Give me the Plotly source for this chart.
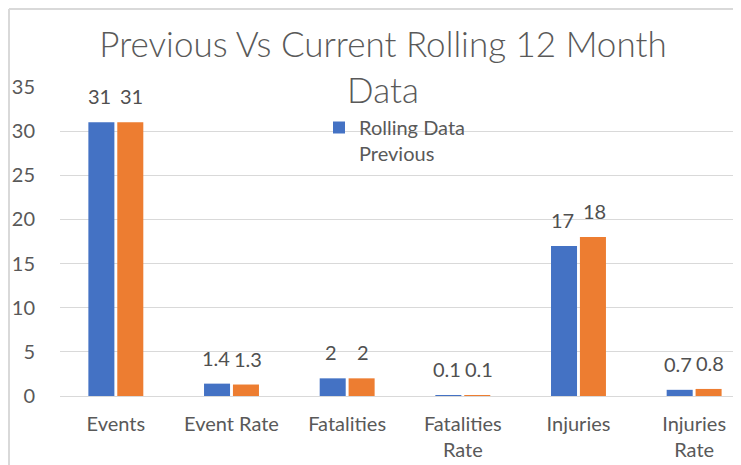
import plotly.graph_objects as go

categories = ["Events", "Event Rate", "Fatalities", "Fatalities<br>Rate", "Injuries", "Injuries<br>Rate"]
previous = [31, 1.4, 2, 0.1, 17, 0.7]
current = [31, 1.3, 2, 0.1, 18, 0.8]
y_ticks = [0, 5, 10, 15, 20, 25, 30, 35]

# the page body adds an 8px margin; lay out in page pixels and convert
OFF = 8
W, H = 741 - OFF, 465 - OFF
ML, MR, MT, MB = 60 - OFF, 0, 87 - OFF, 465 - 396
PW = W - ML - MR
PH = H - MT - MB

def px(x):
    return (x - OFF - ML) / PW

def py(y):
    return (H - MB - (y - OFF)) / PH

font_fam = "Lato, 'Open Sans', sans-serif"
label_col = "#595959"
value_col = "#505050"

fig = go.Figure()
fig.add_trace(go.Bar(
    x=categories, y=previous, name="Rolling Data<br>Previous",
    marker=dict(color="#4472C4", line=dict(width=0)),
))
fig.add_trace(go.Bar(
    x=categories, y=current, name="Current", showlegend=False,
    marker=dict(color="#ED7D31", line=dict(width=0)),
))

# data labels above the bars
for cat, v in zip(categories, previous):
    fig.add_annotation(x=cat, y=v, text=str(v), showarrow=False,
                       xshift=-16, yshift=12, yanchor="bottom",
                       font=dict(size=20, color=value_col, family=font_fam))
for cat, v in zip(categories, current):
    fig.add_annotation(x=cat, y=v, text=str(v), showarrow=False,
                       xshift=16, yshift=12, yanchor="bottom",
                       font=dict(size=20, color=value_col, family=font_fam))

fig.update_layout(
    width=W, height=H,
    margin=dict(l=ML, r=MR, t=MT, b=MB, autoexpand=False),
    paper_bgcolor="white", plot_bgcolor="white",
    barmode="group", bargap=0.5, bargroupgap=0.1,
    font=dict(family=font_fam, color=label_col, size=20),
    title=dict(
        text="Previous Vs Current Rolling 12 Month<br>Data",
        x=(383 - OFF) / W, xanchor="center", xref="container",
        y=1 - 49 / H, yanchor="top", yref="container",
        font=dict(size=35, color=label_col, family=font_fam, weight=300),
        automargin=False,
    ),
    legend=dict(
        x=px(319), y=py(108), xanchor="left", yanchor="top",
        bgcolor="rgba(0,0,0,0)", font=dict(size=20, color=label_col),
        itemwidth=30, valign="top",
    ),
    xaxis=dict(
        type="category", range=[-0.5 + 2 / 116, 5.5 - 11 / 116],
        showgrid=False, showline=False, ticks="",
        tickfont=dict(size=20, color=label_col),
        ticklabelstandoff=14, automargin=False,
    ),
    yaxis=dict(
        range=[0, 35], tickvals=y_ticks, showgrid=True,
        gridcolor="#d9d9d9", gridwidth=1, zeroline=True,
        zerolinecolor="#d9d9d9", zerolinewidth=1, showline=False,
        tickfont=dict(size=20, color=label_col), ticks="",
        ticklabelstandoff=24, automargin=False,
    ),
)

# chart-area border (left and top edges visible in the reference)
fig.add_shape(type="line", xref="paper", yref="paper",
              x0=px(9), x1=px(9), y0=py(470), y1=py(9),
              line=dict(color="#d9d9d9", width=2))
fig.add_shape(type="line", xref="paper", yref="paper",
              x0=px(9), x1=px(750), y0=py(9), y1=py(9),
              line=dict(color="#d9d9d9", width=2))

fig.write_html("out.html")
